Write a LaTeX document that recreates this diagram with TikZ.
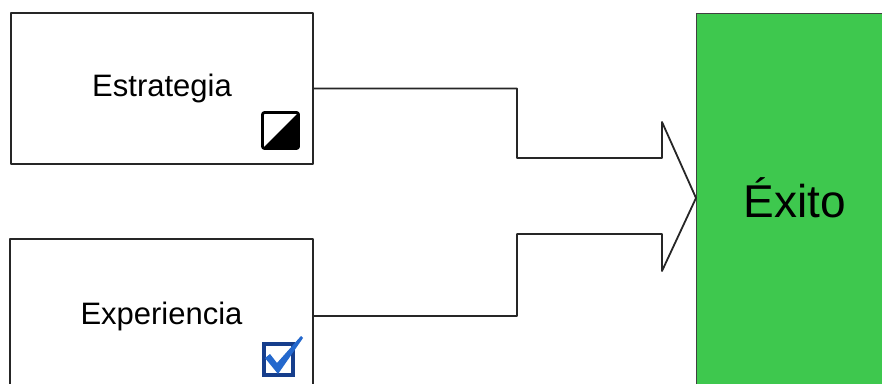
\documentclass[tikz,border=0pt]{standalone}
\usepackage{fontspec}
\setmainfont{Liberation Sans}
\usetikzlibrary{positioning}
\definecolor{exitogreen}{RGB}{62,200,78}
\definecolor{checkblue}{RGB}{22,62,140}
\definecolor{ticklight}{RGB}{36,104,205}

\begin{document}
\begin{tikzpicture}[x=1pt,y=1pt,line join=round,line cap=round,
  box/.style={draw=black!85,line width=1.8pt,fill=white,inner sep=0pt,
    minimum width=302pt,minimum height=151pt,font=\fontsize{31}{36}\selectfont}]
  \useasboundingbox (0,0) rectangle (882,383);
  \clip (0,0) rectangle (882,383);
  % the two inputs and the goal
  \node[box] (estr) at (162,294.5) {Estrategia};
  \node[box,minimum width=303pt,minimum height=154pt] (exp) at (161.5,67) {Experiencia};
  \node[draw=black!75,line width=1pt,fill=exitogreen,inner sep=0pt,
    minimum width=194pt,minimum height=379pt] (exito) at (793,179.5) {};
  \node[font=\fontsize{46}{52}\selectfont] (exitotxt) at (795,185) {Éxito};
  % joined arrow
  \coordinate (tip) at (696,185);
  \draw[line width=1.8pt,black!85] (estr.east) -| (517,225) -- (662,225) -- (662,261) -- (tip)
    -- (662,112) -- (662,149) -- (517,149) |- (exp.east);
  % half filled square
  \draw[line width=2.8pt,rounded corners=2pt] (262.5,234.5) rectangle (298.5,270.5);
  \fill (262.5,234.5) -- (298.5,234.5) -- (298.5,270.5) -- cycle;
  % tick box
  \draw[checkblue,line width=4.5pt,line cap=butt,line join=miter] (264,8) rectangle (293,39);
  \fill[ticklight] (265,25) -- (270,29) -- (277,20) -- (301,47) -- (303,45) -- (278,9) -- cycle;
\end{tikzpicture}
\end{document}
